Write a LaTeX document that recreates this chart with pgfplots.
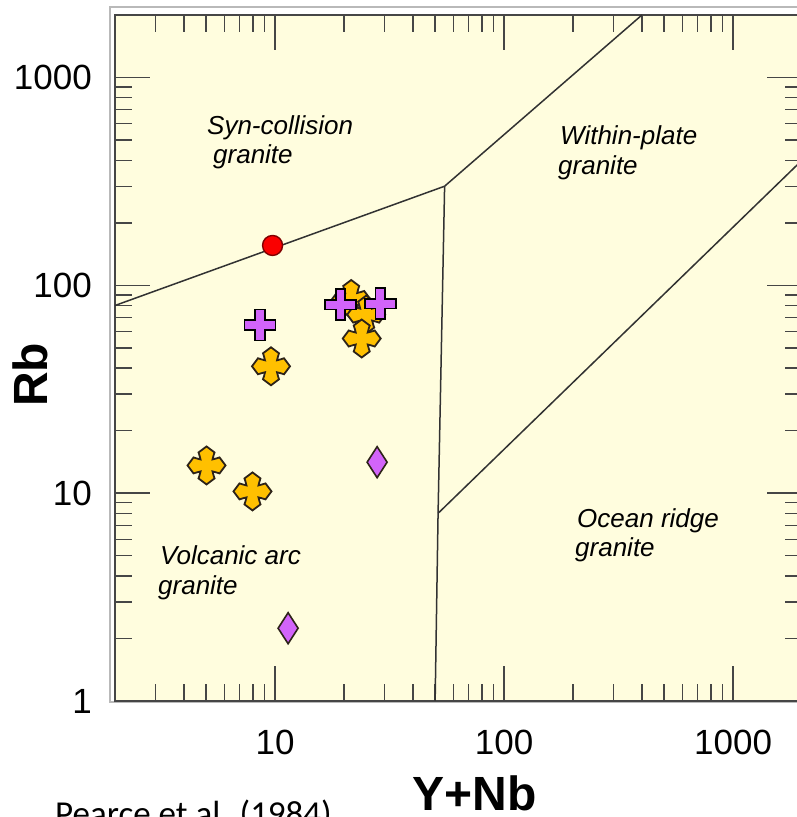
\documentclass[border=0pt]{standalone}
\usepackage{fontspec}
\setmainfont{Liberation Sans}
\newfontfamily\calib{Carlito}
\usepackage{pgfplots}
\pgfplotsset{compat=1.18}
\definecolor{bgyellow}{RGB}{255,253,222}
\definecolor{framegray}{RGB}{70,70,70}
\definecolor{outergray}{RGB}{185,185,185}
\definecolor{bline}{RGB}{50,50,50}
\definecolor{mpurple}{RGB}{210,100,250}
\definecolor{myellow}{RGB}{255,192,0}
\definecolor{mred}{RGB}{250,0,0}
\definecolor{medge}{RGB}{45,35,25}

\pgfdeclareplotmark{fatplus}{%
  \pgfpathmoveto{\pgfqpoint{-4.8pt}{15.5pt}}%
  \pgfpathlineto{\pgfqpoint{4.8pt}{15.5pt}}%
  \pgfpathlineto{\pgfqpoint{4.8pt}{4.8pt}}%
  \pgfpathlineto{\pgfqpoint{15.5pt}{4.8pt}}%
  \pgfpathlineto{\pgfqpoint{15.5pt}{-4.8pt}}%
  \pgfpathlineto{\pgfqpoint{4.8pt}{-4.8pt}}%
  \pgfpathlineto{\pgfqpoint{4.8pt}{-15.5pt}}%
  \pgfpathlineto{\pgfqpoint{-4.8pt}{-15.5pt}}%
  \pgfpathlineto{\pgfqpoint{-4.8pt}{-4.8pt}}%
  \pgfpathlineto{\pgfqpoint{-15.5pt}{-4.8pt}}%
  \pgfpathlineto{\pgfqpoint{-15.5pt}{4.8pt}}%
  \pgfpathlineto{\pgfqpoint{-4.8pt}{4.8pt}}%
  \pgfpathclose
  \pgfusepathqfillstroke
}
\pgfdeclareplotmark{ystar}{%
  \pgfpathmoveto{\pgfqpoint{6pt}{6pt}}%
  \pgfpathcurveto{\pgfqpoint{9pt}{6pt}}{\pgfqpoint{11pt}{8pt}}{\pgfqpoint{13pt}{8pt}}%
  \pgfpathlineto{\pgfqpoint{19pt}{0pt}}%
  \pgfpathlineto{\pgfqpoint{13pt}{-8pt}}%
  \pgfpathcurveto{\pgfqpoint{11pt}{-8pt}}{\pgfqpoint{9pt}{-6pt}}{\pgfqpoint{6pt}{-6pt}}%
  \pgfpathcurveto{\pgfqpoint{6pt}{-9pt}}{\pgfqpoint{8pt}{-11pt}}{\pgfqpoint{8pt}{-13pt}}%
  \pgfpathlineto{\pgfqpoint{0pt}{-19pt}}%
  \pgfpathlineto{\pgfqpoint{-8pt}{-13pt}}%
  \pgfpathcurveto{\pgfqpoint{-8pt}{-11pt}}{\pgfqpoint{-6pt}{-9pt}}{\pgfqpoint{-6pt}{-6pt}}%
  \pgfpathcurveto{\pgfqpoint{-9pt}{-6pt}}{\pgfqpoint{-11pt}{-8pt}}{\pgfqpoint{-13pt}{-8pt}}%
  \pgfpathlineto{\pgfqpoint{-19pt}{0pt}}%
  \pgfpathlineto{\pgfqpoint{-13pt}{8pt}}%
  \pgfpathcurveto{\pgfqpoint{-11pt}{8pt}}{\pgfqpoint{-9pt}{6pt}}{\pgfqpoint{-6pt}{6pt}}%
  \pgfpathcurveto{\pgfqpoint{-6pt}{9pt}}{\pgfqpoint{-8pt}{11pt}}{\pgfqpoint{-8pt}{13pt}}%
  \pgfpathlineto{\pgfqpoint{0pt}{19pt}}%
  \pgfpathlineto{\pgfqpoint{8pt}{13pt}}%
  \pgfpathcurveto{\pgfqpoint{8pt}{11pt}}{\pgfqpoint{6pt}{9pt}}{\pgfqpoint{6pt}{6pt}}%
  \pgfpathclose
  \pgfusepathqfillstroke
}
\pgfdeclareplotmark{tdiamond}{%
  \pgfpathmoveto{\pgfqpoint{0pt}{15.5pt}}%
  \pgfpathlineto{\pgfqpoint{10pt}{0pt}}%
  \pgfpathlineto{\pgfqpoint{0pt}{-15.5pt}}%
  \pgfpathlineto{\pgfqpoint{-10pt}{0pt}}%
  \pgfpathclose
  \pgfusepathqfillstroke
}

\newcommand{\ticksize}{\fontsize{35pt}{42pt}\selectfont}
\newcommand{\regsize}{\fontsize{26pt}{30pt}\selectfont\itshape}
\newcommand{\labsize}{\fontsize{48pt}{56pt}\selectfont\bfseries}

\begin{document}
\begin{tikzpicture}
\draw[outergray, line width=1.5pt] (-5pt,-1pt) rectangle (720pt,694pt);
\begin{axis}[
  at={(0pt,0pt)}, anchor=south west,
  scale only axis, width=687pt, height=686pt,
  xmode=log, ymode=log,
  xmin=2, xmax=2000, ymin=1, ymax=2000,
  axis background/.style={fill=bgyellow},
  axis line style={draw=framegray, line width=2pt},
  tick align=inside,
  major tick length=35pt, minor tick length=17pt,
  every tick/.style={draw=framegray, line width=1.4pt},
  xtick={10,100,1000}, xticklabels={10,100,1000},
  ytick={1,10,100,1000}, yticklabels={1,10,100,1000},
  minor xtick={3,4,5,6,7,8,9,20,30,40,50,60,70,80,90,200,300,400,500,600,700,800,900},
  minor ytick={2,3,4,5,6,7,8,9,20,30,40,50,60,70,80,90,200,300,400,500,600,700,800,900},
  /pgf/number format/assume math mode=true,
  xticklabel style={font=\ticksize, inner sep=0pt, anchor=north, yshift=-29pt},
  yticklabel style={font=\ticksize, inner sep=0pt, anchor=east, xshift=-23pt},
  clip=true,
]
% discrimination boundaries (Pearce et al. 1984)
\addplot[bline, line width=1.5pt] coordinates {(2,80) (55,300) (400,2000)};
\addplot[bline, line width=1.5pt] coordinates {(55,300) (51.5,8) (50,1)};
\addplot[bline, line width=1.5pt] coordinates {(51.5,8) (2000,400)};
% yellow samples
\addplot[only marks, mark=ystar, mark options={draw=medge, fill=myellow, line width=1.8pt}]
  coordinates {(21.5,86) (25.0,72.3) (23.9,55.5) (9.6,40.8) (5.02,13.6) (7.97,10.2)};
% purple diamonds
\addplot[only marks, mark=tdiamond, mark options={draw=medge, fill=mpurple, line width=1.6pt}]
  coordinates {(27.9,14.1) (11.4,2.24)};
% purple crosses
\addplot[only marks, mark=fatplus, mark options={draw=black, fill=mpurple, line width=1.8pt}]
  coordinates {(8.6,64.5) (19.3,80.8) (28.8,81.6)};
% red circle
\addplot[only marks, mark=*, mark size=10pt, mark options={draw=red!50!black, fill=mred, line width=1.4pt}]
  coordinates {(9.75,155.6)};
\end{axis}
% region labels
\node[anchor=base west, inner sep=0pt, font=\regsize] at (92pt,566pt) {Syn-collision};
\node[anchor=base west, inner sep=0pt, font=\regsize] at (98pt,537pt) {granite};
\node[anchor=base west, inner sep=0pt, font=\regsize] at (445pt,556pt) {Within-plate};
\node[anchor=base west, inner sep=0pt, font=\regsize] at (443pt,526pt) {granite};
\node[anchor=base west, inner sep=0pt, font=\regsize] at (45pt,136pt) {Volcanic arc};
\node[anchor=base west, inner sep=0pt, font=\regsize] at (43pt,106pt) {granite};
\node[anchor=base west, inner sep=0pt, font=\regsize] at (462pt,173pt) {Ocean ridge};
\node[anchor=base west, inner sep=0pt, font=\regsize] at (460pt,144pt) {granite};
% axis labels
\node[anchor=base, inner sep=0pt, rotate=90, font=\labsize] at (-67pt,326pt) {Rb};
\node[anchor=base, inner sep=0pt, font=\labsize] at (359.5pt,-109pt) {Y+Nb};
\node[anchor=base west, inner sep=0pt, font={\calib\fontsize{35pt}{42pt}\selectfont}] at (-60pt,-124.5pt) {Pearce et al. (1984)};
\pgfresetboundingbox
\path[use as bounding box] (-115pt,-116pt) rectangle (682pt,701pt);
\end{tikzpicture}
\end{document}
